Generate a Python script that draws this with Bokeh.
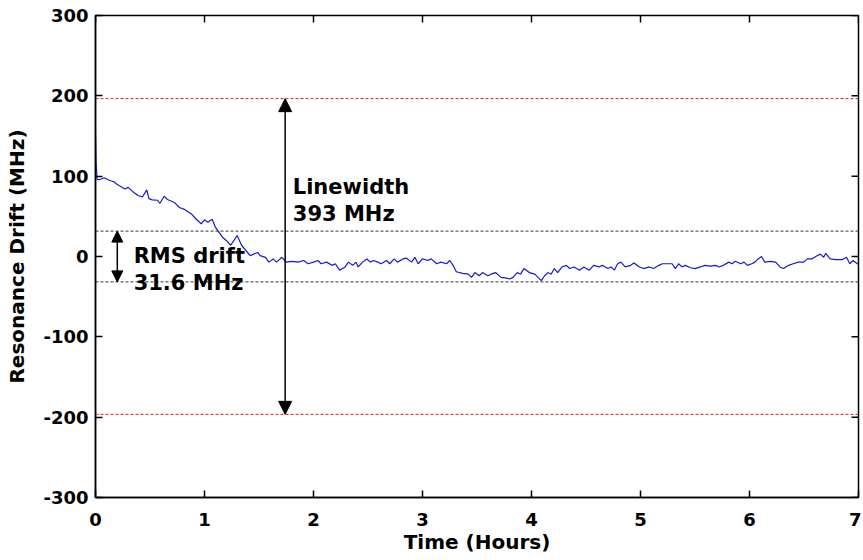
import math
from bokeh.plotting import figure
from bokeh.models import Range1d, Span, Arrow, NormalHead, Label, FixedTicker, PrintfTickFormatter
from bokeh.embed import file_html
from bokeh.resources import INLINE

# ---- data ----
time_h = [0.0, 0.005, 0.015, 0.037, 0.08, 0.13, 0.17, 0.19, 0.22, 0.27, 0.30, 0.34, 0.39, 0.43,
          0.47, 0.49, 0.52, 0.57, 0.59, 0.63, 0.66, 0.72, 0.77, 0.81, 0.88, 0.92, 0.97, 1.0,
          1.03, 1.07, 1.10, 1.165, 1.20, 1.24, 1.30, 1.34, 1.42, 1.45, 1.49, 1.51, 1.56, 1.59,
          1.63, 1.66, 1.71, 1.75, 1.80, 1.86, 1.91, 1.95, 2.0, 2.04, 2.07, 2.12, 2.17, 2.20,
          2.24, 2.29, 2.32, 2.36, 2.39, 2.41, 2.45, 2.49, 2.52, 2.55, 2.59, 2.62, 2.67, 2.70,
          2.74, 2.77, 2.82, 2.85, 2.90, 2.93, 2.96, 3.0, 3.05, 3.08, 3.13, 3.17, 3.22, 3.25,
          3.28, 3.31, 3.37, 3.42, 3.45, 3.48, 3.52, 3.55, 3.60, 3.63, 3.67, 3.72, 3.77, 3.80,
          3.83, 3.87, 3.90, 3.93, 3.98, 4.03, 4.06, 4.09, 4.12, 4.15, 4.18, 4.21, 4.24, 4.28,
          4.32, 4.35, 4.39, 4.44, 4.48, 4.53, 4.57, 4.62, 4.65, 4.70, 4.73, 4.76, 4.79, 4.82,
          4.86, 4.91, 4.94, 4.99, 5.03, 5.08, 5.12, 5.17, 5.20, 5.25, 5.29, 5.32, 5.35, 5.38,
          5.41, 5.46, 5.50, 5.55, 5.59, 5.64, 5.69, 5.72, 5.76, 5.81, 5.84, 5.87, 5.92, 5.95,
          5.98, 6.02, 6.05, 6.08, 6.11, 6.14, 6.19, 6.24, 6.28, 6.31, 6.36, 6.40, 6.45, 6.50,
          6.53, 6.57, 6.62, 6.65, 6.68, 6.70, 6.74, 6.79, 6.85, 6.89, 6.92, 6.95, 6.98, 7.0]
drift_mhz = [152, 118, 96, 95.5, 98, 94.6, 93, 90.5, 88, 84, 86, 81, 76, 74,
             83, 72, 70.5, 70, 66, 75, 71, 67.6, 61, 59, 53, 47, 40.7, 45.7,
             42.7, 46.4, 36.5, 24, 20, 14, 26, 14, 1, 3, 5, 1, -1, -7,
             -3, -7, -1, -7, -6, -7, -5, -9, -7, -5, -9, -7, -11, -9,
             -17, -13, -7, -11, -7, -13, -7, -3, -7, -5, -7, -9, -5, -9,
             -3, -7, -3, -2, -7, -1, -9, -3, -5, -3, -9, -7, -9, -5,
             -11, -19, -21, -22, -26, -20, -24, -20, -24, -22, -20, -26, -27, -28,
             -26, -20, -22, -15, -20, -22, -26, -30, -24, -20, -22, -15, -20, -13,
             -11, -15, -13, -17, -13, -17, -11, -13, -11, -15, -13, -17, -9, -7,
             -13, -11, -8, -13, -15, -13, -15, -11, -9, -9, -9, -15, -9, -13,
             -11, -14, -15, -13, -11, -12, -11, -13, -11, -7, -9, -6, -9, -7,
             -11, -9, -7, -3, 0, -7, -6, -7, -13, -15, -11, -9, -7, -7,
             -3, -3, 1, 3, -1, 4, -3, -4, -4, -1, -9, -5, -8, -10]

x_ticks = [0, 1, 2, 3, 4, 5, 6, 7]
y_ticks = [-300, -200, -100, 0, 100, 200, 300]
x_min, x_max = 0, 7
y_min, y_max = -300, 300

linewidth_half = 196.5      # +/- 393/2 MHz
rms_drift = 31.6            # MHz
arrow_big_t = 1.74
arrow_small_t = 0.2

FONT = "DejaVu Sans"
TICK = 7

p = figure(width=861, height=558, output_backend="svg", toolbar_location=None,
           x_range=Range1d(x_min, x_max), y_range=Range1d(y_min, y_max),
           min_border_left=95, min_border_right=3, min_border_top=15, min_border_bottom=61)

p.grid.visible = False
p.outline_line_color = "black"
p.outline_line_width = 1.5
p.background_fill_color = "white"
p.border_fill_color = "white"

for ax in (p.xaxis[0], p.yaxis[0]):
    ax.axis_line_color = "black"
    ax.axis_line_width = 1.5
    ax.major_tick_in = TICK
    ax.major_tick_out = 0
    ax.major_tick_line_color = "black"
    ax.major_tick_line_width = 1.5
    ax.minor_tick_line_color = None
    ax.major_label_text_font = FONT
    ax.major_label_text_font_style = "bold"
    ax.major_label_text_font_size = "18px"
    ax.major_label_text_color = "black"
    ax.axis_label_text_font = FONT
    ax.axis_label_text_font_style = "bold"
    ax.axis_label_text_font_size = "20px"
    ax.axis_label_text_color = "black"
    ax.formatter = PrintfTickFormatter(format="%d")

p.xaxis.ticker = FixedTicker(ticks=x_ticks)
p.yaxis.ticker = FixedTicker(ticks=y_ticks)
p.xaxis.axis_label = "Time (Hours)"
p.yaxis.axis_label = "Resonance Drift (MHz)"
p.xaxis.major_label_standoff = 15
p.yaxis.major_label_standoff = 7
p.xaxis.axis_label_standoff = 1
p.yaxis.axis_label_standoff = 11

# mirrored tick marks on the top and right edges of the box
p.ray(x=x_ticks, y=[y_max] * len(x_ticks), length=TICK, length_units="screen",
      angle=-math.pi / 2, line_color="black", line_width=1.5)
p.ray(x=[x_max] * len(y_ticks), y=y_ticks, length=TICK, length_units="screen",
      angle=math.pi, line_color="black", line_width=1.5)

# reference lines
for loc in (linewidth_half, -linewidth_half):
    p.add_layout(Span(location=loc, dimension="width", line_color="#d42020",
                      line_dash="3 2", line_width=1))
for loc in (rms_drift, -rms_drift):
    p.add_layout(Span(location=loc, dimension="width", line_color="#333333",
                      line_dash="3 2", line_width=1))

# data line
p.line(time_h, drift_mhz, line_color="#1a1acc", line_width=1.2)

# arrows
p.add_layout(Arrow(start=NormalHead(size=13, fill_color="black", line_color="black"),
                   end=NormalHead(size=13, fill_color="black", line_color="black"),
                   x_start=arrow_big_t, y_start=-linewidth_half,
                   x_end=arrow_big_t, y_end=linewidth_half,
                   line_color="black", line_width=1.5))
p.add_layout(Arrow(start=NormalHead(size=11, fill_color="black", line_color="black"),
                   end=NormalHead(size=11, fill_color="black", line_color="black"),
                   x_start=arrow_small_t, y_start=-rms_drift,
                   x_end=arrow_small_t, y_end=rms_drift,
                   line_color="black", line_width=1.5))

def add_label(x, y, text):
    p.add_layout(Label(x=x, y=y, text=text, text_font=FONT, text_font_style="bold",
                       text_font_size="21px", text_color="black",
                       text_baseline="alphabetic", text_align="left"))

add_label(1.81, 86, "Linewidth")
add_label(1.81, 53, "393 MHz")
add_label(0.35, 1.2, "RMS drift")
add_label(0.35, -33.6, "31.6 MHz")

open("out.html", "w").write(file_html(p, INLINE))
